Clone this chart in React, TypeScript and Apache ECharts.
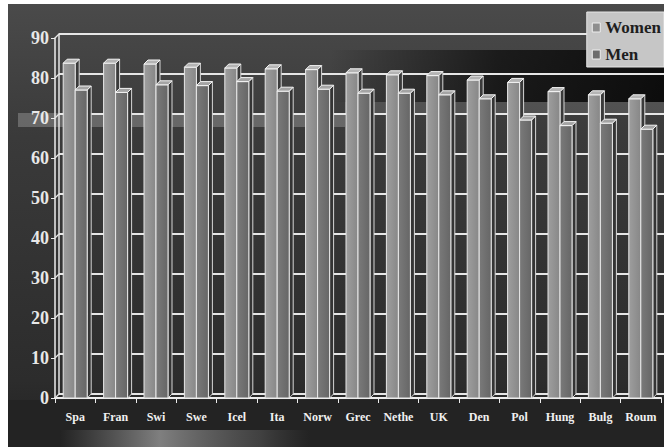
import React, { useEffect, useRef } from "react";
import * as echarts from "echarts";

// Life expectancy at birth by country, women and men (years)
const categories = ["Spa", "Fran", "Swi", "Swe", "Icel", "Ita", "Norw", "Grec", "Nethe", "UK", "Den", "Pol", "Hung", "Bulg", "Roum"];
const women = [83.7, 83.7, 83.5, 82.7, 82.5, 82.3, 82.1, 81.3, 80.8, 80.6, 79.5, 78.9, 76.6, 75.8, 74.8];
const men = [77.0, 76.4, 78.3, 78.1, 79.1, 76.7, 77.2, 76.2, 76.2, 75.8, 74.8, 69.5, 68.1, 68.7, 67.2];
const seriesNames = ["Women", "Men"];
const yMin = 0;
const yMax = 90;
const yStep = 10;

const SERIF = "'Liberation Serif', 'Times New Roman', serif";
const BAR_W = 12;
const DEPTH = 4;

// Draws one bar as a small prism: side face, front face and top cap
function prism(side: "left" | "right", face: string[], cap: string, shade: string) {
  return (_params: any, api: any) => {
    const i = api.value(0);
    const v = api.value(1);
    const p = api.coord([i, v]);
    const b = api.coord([i, 0]);
    const x0 = side === "left" ? p[0] - BAR_W : p[0];
    const x1 = x0 + BAR_W;
    const y = p[1];
    const y0 = b[1];
    return {
      type: "group",
      children: [
        {
          type: "polygon",
          shape: { points: [[x1, y], [x1 + DEPTH, y - DEPTH], [x1 + DEPTH, y0 - DEPTH], [x1, y0]] },
          style: { fill: shade, stroke: "#d6d6d6", lineWidth: 1 },
        },
        {
          type: "rect",
          shape: { x: x0, y, width: BAR_W, height: y0 - y },
          style: {
            fill: new echarts.graphic.LinearGradient(0, 0, 1, 0, [
              { offset: 0, color: face[0] },
              { offset: 1, color: face[1] },
            ]),
            stroke: "#e8e8e8",
            lineWidth: 1,
          },
        },
        {
          type: "polygon",
          shape: { points: [[x0, y], [x0 + DEPTH, y - DEPTH], [x1 + DEPTH, y - DEPTH], [x1, y]] },
          style: { fill: cap, stroke: "#f4f4f4", lineWidth: 1 },
        },
      ],
    };
  };
}

export default function App() {
  const ref = useRef<HTMLDivElement>(null);

  useEffect(() => {
    if (!ref.current) return;
    const chart = echarts.init(ref.current, undefined, { renderer: "svg" });

    const tickValues: number[] = [];
    for (let t = yMin; t <= yMax; t += yStep) tickValues.push(t);

    const option: any = {
      animation: false,
      backgroundColor: new echarts.graphic.LinearGradient(0, 0, 0, 1, [
        { offset: 0, color: "#4a4a4a" },
        { offset: 0.3, color: "#3a3a3a" },
        { offset: 0.85, color: "#2c2c2c" },
        { offset: 1, color: "#222222" },
      ]),
      graphic: [
        {
          type: "rect",
          z: -5,
          shape: { x: 322, y: 46, width: 334, height: 52 },
          style: {
            fill: new echarts.graphic.LinearGradient(0, 0, 1, 0, [
              { offset: 0, color: "rgba(0,0,0,0)" },
              { offset: 0.5, color: "rgba(0,0,0,0.6)" },
              { offset: 1, color: "rgba(0,0,0,0.8)" },
            ]),
          },
        },
        {
          type: "rect",
          z: -5,
          shape: { x: 337, y: 98, width: 319, height: 13 },
          style: { fill: "rgba(120,120,120,0.35)" },
        },
        {
          type: "rect",
          z: -5,
          shape: { x: 10, y: 109, width: 327, height: 14 },
          style: { fill: "rgba(140,140,140,0.55)" },
        },
        {
          type: "rect",
          z: -5,
          shape: { x: 0, y: 396, width: 656, height: 47 },
          style: { fill: "#232323" },
        },
        {
          type: "rect",
          z: -4,
          shape: { x: 52, y: 426, width: 250, height: 17 },
          style: {
            fill: new echarts.graphic.LinearGradient(0, 0, 1, 0, [
              { offset: 0, color: "rgba(140,140,140,0)" },
              { offset: 0.4, color: "rgba(150,150,150,0.8)" },
              { offset: 0.8, color: "rgba(110,110,110,0.4)" },
              { offset: 1, color: "rgba(90,90,90,0)" },
            ]),
          },
        },
      ],
      legend: {
        orient: "vertical",
        right: 0,
        top: 8,
        padding: [7, 3, 4, 5],
        backgroundColor: "#c6c6c6",
        borderColor: "#e6e6e6",
        borderWidth: 1,
        itemWidth: 8,
        itemHeight: 9,
        itemGap: 10,
        icon: "rect",
        textStyle: { fontFamily: SERIF, fontWeight: "bold", fontSize: 17, lineHeight: 17, color: "#1e1e1e" },
        data: [
          { name: seriesNames[0], itemStyle: { color: "#8e8e8e", borderColor: "#eeeeee", borderWidth: 1 } },
          { name: seriesNames[1], itemStyle: { color: "#6c6c6c", borderColor: "#eeeeee", borderWidth: 1 } },
        ],
      },
      grid: [
        // front: axes and bars
        { left: 47, right: 3, top: 34, bottom: 49 },
        // back wall, shifted for depth
        { left: 47 + DEPTH, right: 0, top: 34 - DEPTH, bottom: 49 + DEPTH },
      ],
      xAxis: [
        {
          type: "category",
          gridIndex: 0,
          data: categories,
          axisLine: { lineStyle: { color: "#eeeeee", width: 2 } },
          axisTick: { show: true, length: 5, lineStyle: { color: "#eeeeee", width: 1 } },
          axisLabel: { interval: 0, fontFamily: SERIF, fontWeight: "bold", fontSize: 12, color: "#f0f0f0", margin: 13 },
          splitLine: { show: false },
        },
        {
          type: "category",
          gridIndex: 1,
          data: categories,
          show: false,
        },
      ],
      yAxis: [
        {
          type: "value",
          gridIndex: 0,
          min: yMin,
          max: yMax,
          interval: yStep,
          axisLine: { show: true, lineStyle: { color: "#eeeeee", width: 1.5 } },
          axisTick: { show: true, length: 4, lineStyle: { color: "#eeeeee", width: 1 } },
          axisLabel: { fontFamily: SERIF, fontWeight: "bold", fontSize: 18, color: "#e8e8e8", margin: 6 },
          splitLine: { show: false },
        },
        {
          type: "value",
          gridIndex: 1,
          min: yMin,
          max: yMax,
          interval: yStep,
          axisLine: { show: true, lineStyle: { color: "#e6e6e6", width: 1.5 } },
          axisTick: { show: false },
          axisLabel: { show: false },
          splitLine: { show: true, lineStyle: { color: "#e6e6e6", width: 2 } },
        },
      ],
      series: [
        {
          name: seriesNames[0],
          type: "custom",
          xAxisIndex: 0,
          yAxisIndex: 0,
          itemStyle: { color: "#8e8e8e" },
          encode: { x: 0, y: 1 },
          data: women.map((v, i) => [i, v]),
          renderItem: prism("left", ["#9e9e9e", "#878787"], "#b4b4b4", "#3a3a3a"),
          z: 3,
        },
        {
          name: seriesNames[1],
          type: "custom",
          xAxisIndex: 0,
          yAxisIndex: 0,
          itemStyle: { color: "#6c6c6c" },
          encode: { x: 0, y: 1 },
          data: men.map((v, i) => [i, v]),
          renderItem: prism("right", ["#7a7a7a", "#666666"], "#a4a4a4", "#343434"),
          z: 4,
        },
        {
          // short diagonals joining each front axis tick to the back wall
          name: "wall",
          type: "custom",
          xAxisIndex: 0,
          yAxisIndex: 0,
          silent: true,
          encode: { y: 0 },
          data: tickValues.map((t) => [t]),
          renderItem: (_params: any, api: any) => {
            const v = api.value(0);
            const p = api.coord([0, v]);
            const x = p[0] - api.size([1, 0])[0] / 2;
            return {
              type: "line",
              shape: { x1: x, y1: p[1], x2: x + DEPTH, y2: p[1] - DEPTH },
              style: { stroke: "#e6e6e6", lineWidth: 1.2 },
            };
          },
          z: 2,
        },
      ],
    };

    chart.setOption(option);
    return () => chart.dispose();
  }, []);

  return (
    <div
      ref={ref}
      style={{ position: "absolute", left: 8, top: 4, width: 656, height: 443 }}
    />
  );
}
